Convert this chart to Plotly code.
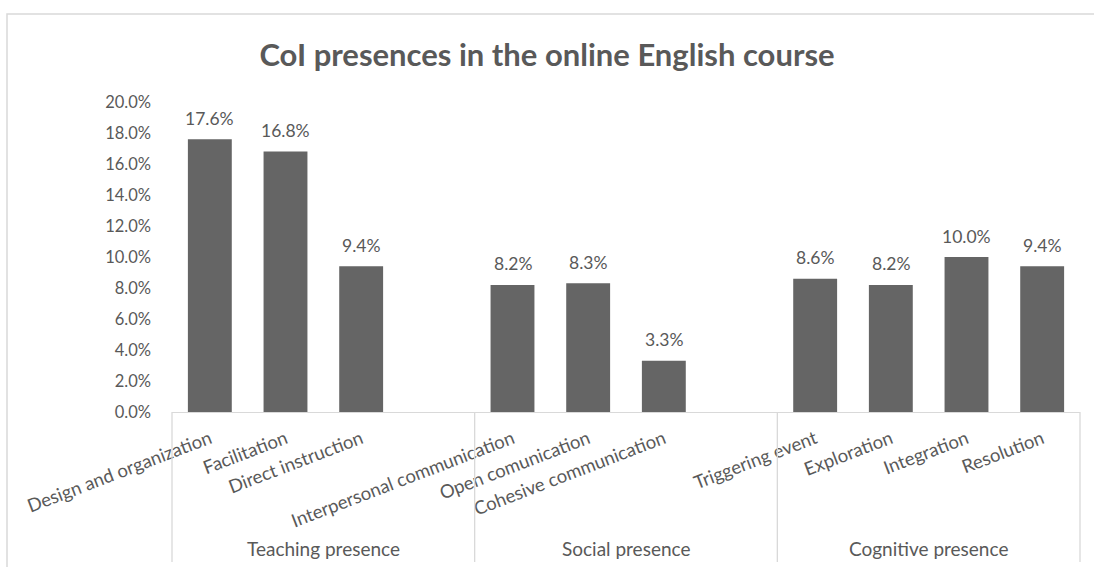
import plotly.graph_objects as go

# ---- data ----
categories = ["Design and organization", "Facilitation", "Direct instruction", " ",
              "Interpersonal communication", "Open comunication", "Cohesive communication", "  ",
              "Triggering event", "Exploration", "Integration", "Resolution"]
values = [17.6, 16.8, 9.4, None, 8.2, 8.3, 3.3, None, 8.6, 8.2, 10.0, 9.4]
groups = ["Teaching presence", "Social presence", "Cognitive presence"]
y_ticks = [0, 2, 4, 6, 8, 10, 12, 14, 16, 18, 20]
y_ticktext = [f"{v:.1f}%" for v in y_ticks]
title = "CoI presences in the online English course"

# ---- layout constants (pixels) ----
W, H = 1094, 567
L, R = 172, 1080
T, B = 102, 412
pw, ph = R - L, B - T
FONT = "Lato"
TXT = "#595959"
GRID = "#d9d9d9"


def px_x(x):
    return (x - L) / pw


def px_y(y):
    return (B - y) / ph


fig = go.Figure()
fig.add_trace(go.Bar(
    x=categories, y=values,
    marker=dict(color="#656565", line=dict(width=0)),
    width=0.58, hoverinfo="x+y",
))

annotations = []
for c, v in zip(categories, values):
    if v is None:
        continue
    annotations.append(dict(x=c, y=v, xref="x", yref="y", text=f"{v:.1f}%",
                            showarrow=False, yshift=21, yanchor="middle", xanchor="center",
                            font=dict(family=FONT, size=17.5, color=TXT)))

n = len(groups)
for i, g in enumerate(groups):
    annotations.append(dict(x=(i + 0.5) / n, y=px_y(548), xref="paper", yref="paper",
                            text=g, showarrow=False, yanchor="middle", xanchor="center",
                            font=dict(family=FONT, size=19, color=TXT)))

shapes = []
for i in range(n + 1):
    shapes.append(dict(type="line", xref="paper", yref="paper",
                       x0=i / n, x1=i / n, y0=0, y1=px_y(562),
                       line=dict(color=GRID, width=1.3)))
# outer chart border
shapes.append(dict(type="rect", xref="paper", yref="paper",
                   x0=px_x(7), x1=px_x(W + 10), y0=px_y(14), y1=px_y(H + 10),
                   line=dict(color=GRID, width=1.5), fillcolor="rgba(0,0,0,0)", layer="below"))

fig.update_layout(
    width=W, height=H,
    margin=dict(l=L, r=W - R, t=T, b=H - B, pad=0),
    paper_bgcolor="white", plot_bgcolor="white",
    title=dict(text="<b>" + title + "</b>", x=547 / W, xref="container", xanchor="center",
               y=1 - 55 / H, yref="container", yanchor="middle",
               font=dict(family=FONT, size=31, color=TXT)),
    font=dict(family=FONT, color=TXT),
    showlegend=False,
    annotations=annotations,
    shapes=shapes,
    xaxis=dict(type="category", categoryorder="array", categoryarray=categories,
               range=[-0.5, len(categories) - 0.5],
               showline=True, linecolor=GRID, linewidth=1.3,
               showgrid=False, ticks="", tickangle=-21, ticklabelstandoff=8,
               tickfont=dict(family=FONT, size=18.5, color=TXT)),
    yaxis=dict(range=[0, 20], tickvals=y_ticks, ticktext=y_ticktext,
               showgrid=False, zeroline=False, showline=False, ticks="",
               ticklabelstandoff=20,
               tickfont=dict(family=FONT, size=16.5, color=TXT)),
)

fig.write_html("out.html")
